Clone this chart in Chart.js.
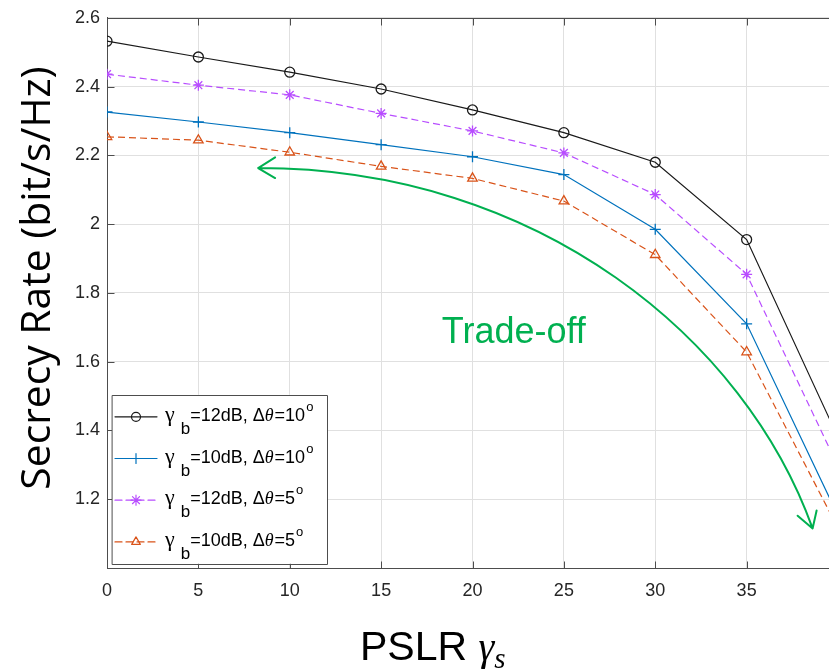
<!DOCTYPE html>
<html>
<head>
<meta charset="utf-8">
<script src="https://cdn.jsdelivr.net/npm/chart.js@4.4.1/dist/chart.umd.min.js"></script>
<style>
  html, body { margin: 0; padding: 0; overflow: hidden; background: #fff; }
  #wrap { width: 860px; height: 670px; }
</style>
</head>
<body>
<div id="wrap"><canvas id="chart" width="860" height="670"></canvas></div>
<script>
// PSLR values on the x axis
const pslr = [0, 5, 10, 15, 20, 25, 30, 35, 40];

// secrecy rate (bit/s/Hz) for each curve
const rate12dB10deg = [2.532, 2.486, 2.442, 2.393, 2.332, 2.266, 2.180, 1.955, 1.380];
const rate10dB10deg = [2.326, 2.297, 2.266, 2.231, 2.196, 2.144, 1.985, 1.710, 1.152];
const rate12dB5deg = [2.436, 2.404, 2.376, 2.322, 2.271, 2.207, 2.086, 1.854, 1.296];
const rate10dB5deg = [2.254, 2.244, 2.209, 2.168, 2.133, 2.067, 1.911, 1.628, 1.116];

// legend pieces: gamma_b and delta theta per curve
const legendGamma = ['12', '10', '12', '10'];
const legendTheta = ['10', '10', '5', '5'];

// green trade-off arrow, in data units (start, control 1, control 2, end)
const arrowCurve = [[8.27, 2.163], [23.71, 2.163], [34.94, 1.662], [38.61, 1.115]];
const arrowHeadStart = [[9.20, 2.194], [8.27, 2.163], [9.20, 2.134]];
const arrowHeadEnd = [[37.79, 1.152], [38.61, 1.115], [38.83, 1.167]];
const tradeOffLabel = { text: 'Trade-off', x: 22.26, y: 1.653 };

const axisColor = '#4d4d4d';
const tickColor = '#262626';
const green = '#00b050';

function toPoints(vals) {
    return pslr.map((x, i) => ({ x: x, y: vals[i] }));
}

const series = [
    { data: rate12dB10deg, color: '#1a1a1a', dash: [], marker: 'circle' },
    { data: rate10dB10deg, color: '#0072BD', dash: [], marker: 'cross' },
    { data: rate12dB5deg, color: '#B84DFF', dash: [7, 4], marker: 'star' },
    { data: rate10dB5deg, color: '#D95319', dash: [7, 4], marker: 'triangle' }
];

// small marker drawer for the legend samples
function drawMarker(ctx, style, x, y, r) {
    ctx.beginPath();
    if (style === 'circle') {
        ctx.arc(x, y, r, 0, Math.PI * 2);
    } else if (style === 'cross') {
        ctx.moveTo(x - r, y); ctx.lineTo(x + r, y);
        ctx.moveTo(x, y - r); ctx.lineTo(x, y + r);
    } else if (style === 'star') {
        for (let k = 0; k < 4; k++) {
            const a = k * Math.PI / 4;
            ctx.moveTo(x - r * Math.cos(a), y - r * Math.sin(a));
            ctx.lineTo(x + r * Math.cos(a), y + r * Math.sin(a));
        }
    } else if (style === 'triangle') {
        ctx.moveTo(x, y - r);
        ctx.lineTo(x + r * 0.866, y + r * 0.5);
        ctx.lineTo(x - r * 0.866, y + r * 0.5);
        ctx.closePath();
    }
    ctx.stroke();
}

// draws text pieces left to right, each piece {t, font, dy}
function drawRuns(ctx, x, y, runs) {
    runs.forEach(run => {
        ctx.font = run.font;
        ctx.fillText(run.t, x, y + (run.dy || 0));
        x += ctx.measureText(run.t).width + (run.gap || 0);
    });
    return x;
}

const decorations = {
    id: 'decorations',
    afterDatasetsDraw(chart) {
        const ctx = chart.ctx;
        const xs = chart.scales.x;
        const ys = chart.scales.y;
        const area = chart.chartArea;
        const px = v => xs.getPixelForValue(v);
        const py = v => ys.getPixelForValue(v);

        ctx.save();

        // box + inward ticks (matlab style)
        ctx.strokeStyle = axisColor;
        ctx.lineWidth = 1;
        ctx.setLineDash([]);
        ctx.beginPath();
        const top = Math.round(area.top) + 0.5;
        const bottom = Math.round(area.bottom) + 0.5;
        const left = Math.round(area.left) + 0.5;
        const right = Math.round(area.right) + 0.5;
        ctx.moveTo(left, top); ctx.lineTo(right, top); ctx.lineTo(right, bottom);
        xs.ticks.forEach(t => {
            const x = Math.round(px(t.value)) + 0.5;
            ctx.moveTo(x, bottom); ctx.lineTo(x, bottom - 7);
            ctx.moveTo(x, top); ctx.lineTo(x, top + 7);
        });
        ys.ticks.forEach(t => {
            const y = Math.round(py(t.value)) + 0.5;
            ctx.moveTo(left, y); ctx.lineTo(left + 7, y);
            ctx.moveTo(right, y); ctx.lineTo(right - 7, y);
        });
        ctx.stroke();

        // trade-off arrow
        ctx.strokeStyle = green;
        ctx.lineWidth = 2;
        ctx.lineCap = 'round';
        ctx.lineJoin = 'round';
        const c = arrowCurve.map(p => [px(p[0]), py(p[1])]);
        ctx.beginPath();
        ctx.moveTo(c[0][0], c[0][1]);
        ctx.bezierCurveTo(c[1][0], c[1][1], c[2][0], c[2][1], c[3][0], c[3][1]);
        [arrowHeadStart, arrowHeadEnd].forEach(head => {
            ctx.moveTo(px(head[0][0]), py(head[0][1]));
            ctx.lineTo(px(head[1][0]), py(head[1][1]));
            ctx.lineTo(px(head[2][0]), py(head[2][1]));
        });
        ctx.stroke();

        ctx.fillStyle = green;
        ctx.font = '36px "Liberation Sans", Arial, sans-serif';
        ctx.textAlign = 'center';
        ctx.textBaseline = 'alphabetic';
        ctx.fillText(tradeOffLabel.text, px(tradeOffLabel.x), py(tradeOffLabel.y));

        // legend
        const lx = area.left + 5, ly = area.top + 377;
        const lw = 215, lh = 169;
        ctx.fillStyle = '#fff';
        ctx.fillRect(lx, ly, lw, lh);
        ctx.strokeStyle = axisColor;
        ctx.lineWidth = 1;
        ctx.strokeRect(Math.round(lx) + 0.5, Math.round(ly) + 0.5, lw, lh);

        ctx.textAlign = 'left';
        series.forEach((s, i) => {
            const y = ly + 22 + i * 41.7;
            ctx.strokeStyle = s.color;
            ctx.lineWidth = 1.2;
            ctx.setLineDash(s.dash);
            ctx.beginPath();
            ctx.moveTo(lx + 3, y); ctx.lineTo(lx + 45, y);
            ctx.stroke();
            ctx.setLineDash([]);
            drawMarker(ctx, s.marker, lx + 24, y, s.marker === 'circle' ? 4.5 : 5);

            ctx.fillStyle = '#000';
            const sans = '"Liberation Sans", Arial, sans-serif';
            const serif = '"Liberation Serif", "Times New Roman", serif';
            drawRuns(ctx, lx + 53, y + 4, [
                { t: 'γ', font: '22px ' + serif, gap: 6 },
                { t: 'b', font: '17px ' + sans, dy: 13 },
                { t: '=' + legendGamma[i] + 'dB, Δ', font: '18px ' + sans },
                { t: 'θ', font: 'italic 18px ' + serif, gap: 1 },
                { t: '=' + legendTheta[i], font: '18px ' + sans, gap: 1 },
                { t: 'o', font: '13px ' + sans, dy: -10 }
            ]);
        });

        // axis titles
        ctx.fillStyle = '#000';
        ctx.save();
        ctx.translate(50, 278);
        ctx.rotate(-Math.PI / 2);
        ctx.textAlign = 'center';
        ctx.font = '33px "Open Sans", sans-serif';
        const yTitle = 'Secrecy Rate (bit/s/Hz)';
        const w = ctx.measureText(yTitle).width;
        const size = 33 * 423 / w;
        ctx.font = size.toFixed(1) + 'px "Open Sans", sans-serif';
        ctx.fillText(yTitle, 0, 0);
        ctx.restore();

        ctx.textAlign = 'left';
        drawRuns(ctx, 360, 660, [
            { t: 'PSLR ', font: '41px "Liberation Sans", Arial, sans-serif' },
            { t: 'γ', font: 'italic 40px "Liberation Serif", serif' },
            { t: 's', font: 'italic 29px "Liberation Serif", serif', dy: 8 }
        ]);

        ctx.restore();
    }
};

new Chart(document.getElementById('chart'), {
    type: 'line',
    data: {
        datasets: series.map(s => ({
            data: toPoints(s.data),
            borderColor: s.color,
            backgroundColor: 'rgba(0,0,0,0)',
            borderWidth: 1.2,
            borderDash: s.dash,
            pointStyle: s.marker,
            pointRadius: s.marker === 'circle' ? 5 : 5.5,
            pointBorderColor: s.color,
            pointBorderWidth: 1.3,
            pointBackgroundColor: 'rgba(0,0,0,0)',
            tension: 0,
            fill: false
        }))
    },
    options: {
        responsive: false,
        animation: false,
        layout: { padding: { left: 0, top: 14, right: 22, bottom: 0 } },
        plugins: { legend: { display: false }, tooltip: { enabled: false } },
        scales: {
            x: {
                type: 'linear',
                min: 0,
                max: 40,
                afterFit: s => { s.height = 102; },
                grid: { color: '#e0e0e0', lineWidth: 1, drawTicks: false },
                border: { color: axisColor, width: 1 },
                ticks: {
                    stepSize: 5,
                    padding: 12,
                    color: tickColor,
                    font: { family: '"Liberation Sans", Arial, sans-serif', size: 18 },
                    // 40 sits on the cropped right edge, its label is not shown
                    callback: v => v >= 40 ? '' : String(v)
                }
            },
            y: {
                min: 1,
                max: 2.6,
                afterFit: s => { s.width = 107; },
                grid: { color: '#e0e0e0', lineWidth: 1, drawTicks: false },
                border: { color: axisColor, width: 1 },
                ticks: {
                    stepSize: 0.2,
                    padding: 7,
                    color: tickColor,
                    font: { family: '"Liberation Sans", Arial, sans-serif', size: 18 },
                    callback: v => Math.abs(v - 1) < 1e-6 ? '' : String(Number(v.toFixed(1)))
                }
            }
        }
    },
    plugins: [decorations]
});
</script>
</body>
</html>
